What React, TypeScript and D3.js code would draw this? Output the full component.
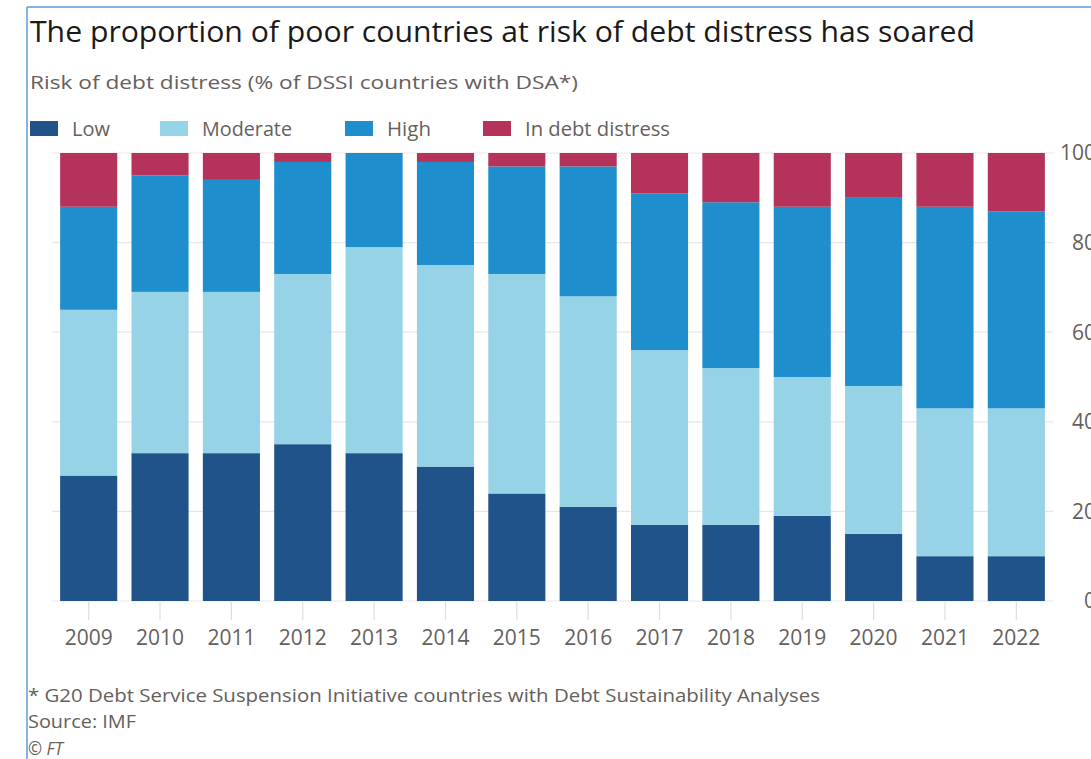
import React from "react";
import * as d3 from "d3";

const years = ["2009","2010","2011","2012","2013","2014","2015","2016","2017","2018","2019","2020","2021","2022"];
const low = [28,33,33,35,33,30,24,21,17,17,19,15,10,10];
const moderate = [37,36,36,38,46,45,49,47,39,35,31,33,33,33];
const high = [23,26,25,25,21,23,24,29,35,37,38,42,45,44];
const distress = [12,5,6,2,0,2,3,3,9,11,12,10,12,13];
const yTicks = [0,20,40,60,80,100];

const seriesKeys = ["Low","Moderate","High","In debt distress"];
const seriesColors = ["#1f538a","#96d3e6","#1e8ecd","#b5325b"];

const W = 1091, H = 759;
const TEXT = "#66605c";
const FONT = "'Open Sans', 'Noto Sans', sans-serif";

export default function App() {
  const rows = years.map((y, i) => ({
    year: y,
    "Low": low[i],
    "Moderate": moderate[i],
    "High": high[i],
    "In debt distress": distress[i],
  }));
  const stacked = d3.stack<any>().keys(seriesKeys)(rows);
  const x = d3.scaleBand<string>().domain(years).range([53, 1052]).paddingInner(0.2).paddingOuter(0.1);
  const y = d3.scaleLinear().domain([0, 100]).range([601, 153]);

  const legendX = [30, 160, 345, 483];
  const legendW = [38, 90, 44, 145];

  return (
    <svg width={W} height={H} style={{ position: "absolute", left: 0, top: 0, background: "#fff" }} fontFamily={FONT}>
      <rect x={0} y={0} width={W} height={H} fill="#fff" />
      <line x1={27} y1={7} x2={27} y2={H} stroke="#5b9bd5" strokeWidth={1.5} />
      <line x1={27} y1={7} x2={W} y2={7} stroke="#5b9bd5" strokeWidth={1.5} />

      <text x={30} y={42} fontSize={30} fill="#1a1a1a" textLength={945} lengthAdjust="spacingAndGlyphs">
        The proportion of poor countries at risk of debt distress has soared
      </text>
      <text x={30} y={89} fontSize={19} fill={TEXT} textLength={548} lengthAdjust="spacingAndGlyphs">
        Risk of debt distress (% of DSSI countries with DSA*)
      </text>

      {seriesKeys.map((k, i) => (
        <g key={k}>
          <rect x={legendX[i]} y={121} width={28} height={15} fill={seriesColors[i]} />
          <text x={legendX[i] + 42} y={136} fontSize={19.5} fill={TEXT} textLength={legendW[i]} lengthAdjust="spacingAndGlyphs">{k}</text>
        </g>
      ))}

      {yTicks.map((t) => (
        <g key={t}>
          <line x1={52} x2={1053} y1={y(t)} y2={y(t)} stroke="#ebe6e1" strokeWidth={1.2} />
          <text x={1096} y={y(t)} dy="0.35em" fontSize={21} fill={TEXT} textAnchor="end">{t}</text>
        </g>
      ))}

      {years.map((yr) => (
        <line key={yr} x1={x(yr)! + x.bandwidth() / 2} x2={x(yr)! + x.bandwidth() / 2} y1={602} y2={620} stroke="#e3ddd8" strokeWidth={1.2} />
      ))}

      {stacked.map((s, si) => (
        <g key={s.key} fill={seriesColors[si]}>
          {s.map((d, i) => (
            d[1] - d[0] > 0 ? (
              <rect key={i} x={x(years[i])} width={x.bandwidth()} y={y(d[1])} height={y(d[0]) - y(d[1])} />
            ) : null
          ))}
        </g>
      ))}

      {years.map((yr) => (
        <text key={yr} x={x(yr)! + x.bandwidth() / 2} y={645} fontSize={21} fill={TEXT} textAnchor="middle">{yr}</text>
      ))}

      <text x={28} y={702} fontSize={18} fill={TEXT} textLength={792} lengthAdjust="spacingAndGlyphs">
        * G20 Debt Service Suspension Initiative countries with Debt Sustainability Analyses
      </text>
      <text x={28} y={728} fontSize={18.5} fill={TEXT} textLength={108} lengthAdjust="spacingAndGlyphs">Source: IMF</text>
      <text x={28} y={755} fontSize={18} fill={TEXT} fontStyle="italic" textLength={35} lengthAdjust="spacingAndGlyphs">© FT</text>
    </svg>
  );
}
